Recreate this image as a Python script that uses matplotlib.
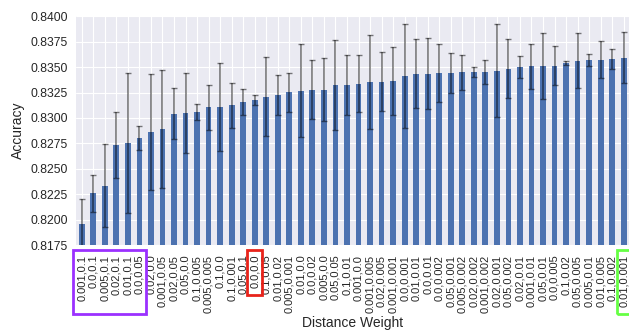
import numpy as np
import matplotlib
matplotlib.use("Agg")
import matplotlib.pyplot as plt
from matplotlib.patches import Rectangle
from matplotlib.ticker import FormatStrFormatter, MultipleLocator
import matplotlib.transforms as mtransforms

labels = [
    "0.001,0.1", "0.0,0.1", "0.005,0.1", "0.02,0.1", "0.01,0.1", "0.0,0.05",
    "0.02,0.0", "0.001,0.05", "0.02,0.05", "0.05,0.0", "0.1,0.005", "0.005,0.005",
    "0.1,0.0", "0.1,0.001", "0.05,0.1", "0.0,0.0", "0.1,0.05", "0.01,0.02",
    "0.005,0.001", "0.01,0.0", "0.0,0.02", "0.005,0.0", "0.05,0.05", "0.1,0.01",
    "0.001,0.0", "0.001,0.005", "0.02,0.005", "0.001,0.001", "0.0,0.001", "0.01,0.01",
    "0.0,0.01", "0.0,0.002", "0.05,0.001", "0.005,0.002", "0.02,0.002", "0.001,0.002",
    "0.02,0.001", "0.05,0.002", "0.02,0.01", "0.001,0.01", "0.05,0.01", "0.0,0.005",
    "0.1,0.02", "0.05,0.005", "0.005,0.01", "0.01,0.005", "0.1,0.002", "0.01,0.001",
]

accuracy = [
    0.81956, 0.82258, 0.82333, 0.82734, 0.82756, 0.82800, 0.82862, 0.82891,
    0.83042, 0.83048, 0.83058, 0.83105, 0.83108, 0.83124, 0.83154, 0.83180,
    0.83209, 0.83226, 0.83252, 0.83268, 0.83278, 0.83278, 0.83324, 0.83324,
    0.83337, 0.83353, 0.83357, 0.83363, 0.83410, 0.83435, 0.83435, 0.83442,
    0.83442, 0.83449, 0.83449, 0.83449, 0.83465, 0.83484, 0.83498, 0.83508,
    0.83511, 0.83514, 0.83541, 0.83563, 0.83567, 0.83573, 0.83583, 0.83593,
]

std = [
    0.0025, 0.0018, 0.0041, 0.0032, 0.0069, 0.0012, 0.0057, 0.0058,
    0.0025, 0.0039, 0.0008, 0.0022, 0.0043, 0.0022, 0.0013, 0.0005,
    0.0039, 0.0020, 0.0019, 0.0046, 0.0029, 0.0031, 0.0044, 0.0030,
    0.0028, 0.0046, 0.0029, 0.0033, 0.0051, 0.0034, 0.0035, 0.0029,
    0.0020, 0.0017, 0.0005, 0.0012, 0.0046, 0.0029, 0.0011, 0.0022,
    0.0032, 0.0019, 0.0002, 0.0027, 0.0006, 0.0018, 0.0010, 0.0025,
]

plt.style.use("seaborn-v0_8-darkgrid")
fig = plt.figure(figsize=(6.29, 3.31), dpi=100)
ax = fig.add_axes([0.1208, 0.2598, 0.8800, 0.6910])

x = np.arange(len(labels))
ax.bar(x, accuracy, width=0.5, color="#4C72B0", yerr=std,
       error_kw=dict(ecolor="black", alpha=0.5, capsize=2, elinewidth=1.2, capthick=1.0))

ax.set_xlim(-0.5, len(labels) - 0.5)
ax.set_ylim(0.8175, 0.8400)
ax.yaxis.set_major_locator(MultipleLocator(0.0025))
ax.yaxis.set_major_formatter(FormatStrFormatter("%.4f"))
ax.set_xticks(x)
ax.set_xticklabels(labels, rotation=90, fontsize=8, color="#262626")
ax.tick_params(axis="y", labelsize=8.7, labelcolor="#262626", pad=6)
ax.tick_params(axis="x", pad=7)
ax.set_ylabel("Accuracy", fontsize=10, color="#262626")
ax.set_xlabel("Distance Weight", fontsize=10, color="#262626", labelpad=2)

trans = mtransforms.blended_transform_factory(ax.transData, ax.transAxes)
boxes = [
    (-0.73, 5.57, -0.302, "#9B30FF"),
    (14.35, 15.62, -0.219, "#E8231A"),
    (46.40, 47.75, -0.302, "#66FF44"),
]
for x0, x1, ybot, col in boxes:
    r = Rectangle((x0, ybot), x1 - x0, -0.022 - ybot, transform=trans,
                  fill=False, edgecolor=col, linewidth=2, clip_on=False)
    ax.add_patch(r)

fig.savefig("out.png", dpi=100)
